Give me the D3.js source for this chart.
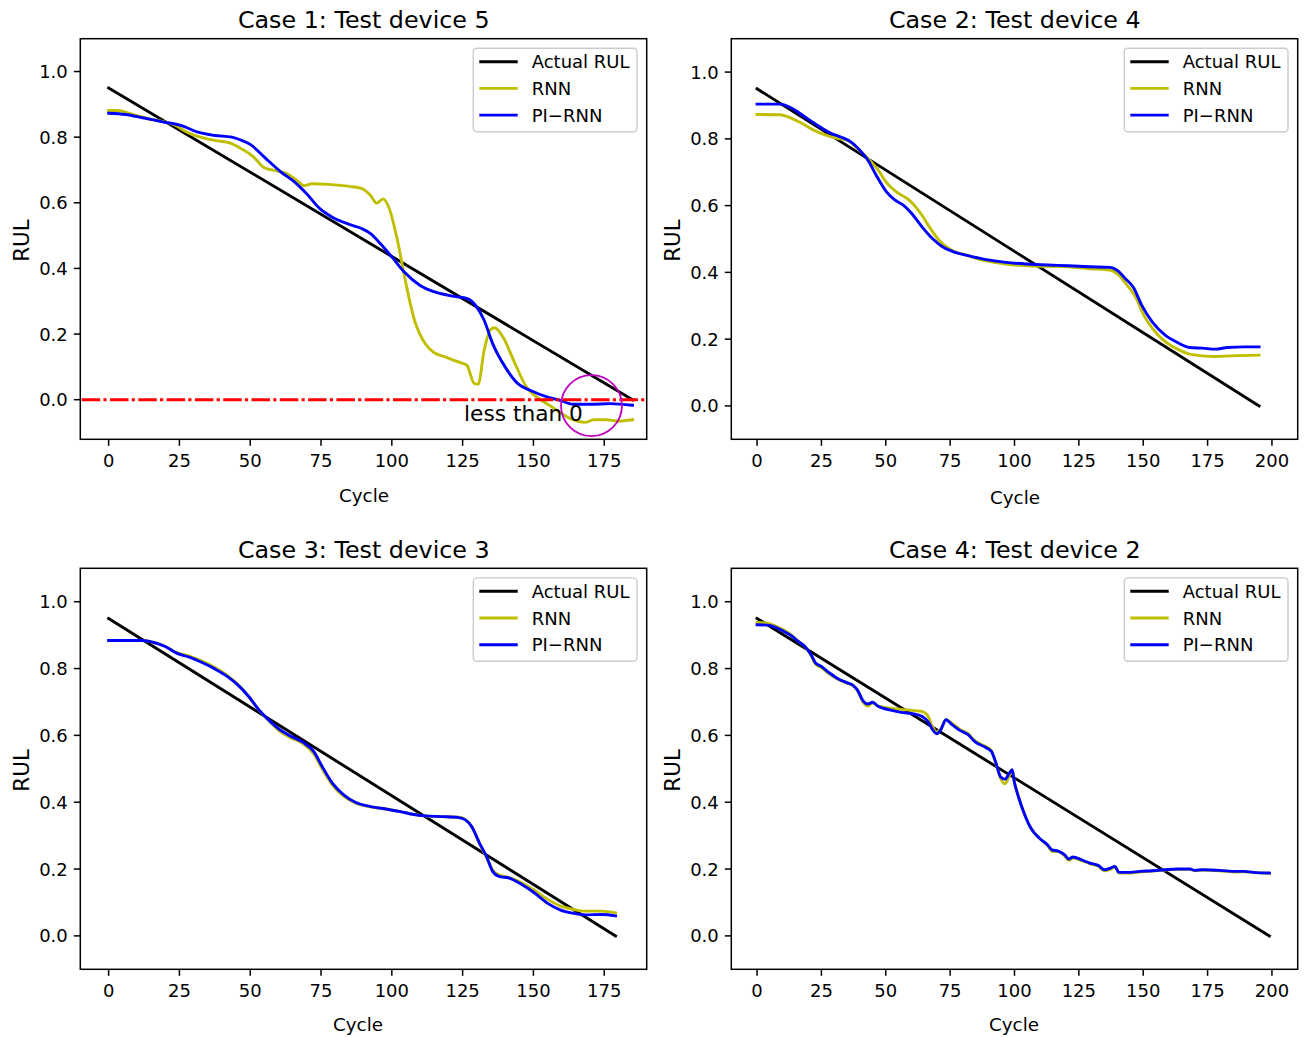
<!DOCTYPE html>
<html>
<head>
<meta charset="utf-8">
<script src="https://cdn.jsdelivr.net/npm/d3@7"></script>
<style>
body{margin:0;background:#fff}
svg{display:block}
text{font-family:"DejaVu Sans","Noto Sans",sans-serif;fill:#000}
</style>
</head>
<body>
<svg id="chart" width="1306" height="1037"></svg>
<script>
// ---------------- DATA ----------------
const titles = ["Case 1: Test device 5", "Case 2: Test device 4", "Case 3: Test device 3", "Case 4: Test device 2"];
const seriesNames = ["Actual RUL", "RNN", "PI\u2212RNN"];
const xTicksShort = [0, 25, 50, 75, 100, 125, 150, 175];
const xTicksLong = [0, 25, 50, 75, 100, 125, 150, 175, 200];
const yTicks = [0.0, 0.2, 0.4, 0.6, 0.8, 1.0];
const xLabel = "Cycle";
const yLabel = "RUL";
const annotationText = "less than 0";
const annotationPos = [125.5, -0.065];
const circlePos = [170.5, -0.018];
const zeroLine = 0;

const case1Actual = [[0, 0.95], [185, 0.0]];
const case1RNN = [[0,0.881],[3,0.881],[8,0.871],[14,0.856],[20,0.846],[24,0.834],[27,0.818],[31.5,0.802],[37.5,0.79],[43,0.782],[47,0.764],[51,0.741],[55,0.707],[60,0.696],[63.5,0.686],[66.5,0.668],[69,0.652],[72,0.658],[77.5,0.656],[85,0.65],[89.5,0.643],[92.5,0.622],[94.7,0.599],[96.9,0.612],[99,0.585],[102,0.485],[105,0.353],[108,0.242],[112,0.168],[115,0.143],[119,0.13],[123.5,0.115],[126.5,0.105],[129,0.05],[130.5,0.047],[132.6,0.15],[134.8,0.213],[136.3,0.219],[139.3,0.19],[143,0.12],[147.5,0.039],[152,0.003],[156.5,-0.022],[161,-0.048],[165.3,-0.065],[168.5,-0.069],[171.3,-0.061],[175.7,-0.061],[180,-0.065],[185,-0.061]];
const case1PIRNN = [[0,0.873],[6,0.869],[12,0.859],[19.5,0.846],[25.5,0.836],[31.5,0.815],[37.5,0.805],[43.5,0.80],[47,0.79],[50,0.778],[55,0.739],[61,0.693],[65.7,0.663],[70,0.627],[74.6,0.582],[79,0.556],[85,0.534],[89.5,0.521],[92.5,0.506],[96,0.475],[100,0.435],[104.4,0.389],[110,0.348],[116,0.326],[122,0.315],[126.7,0.308],[129.6,0.287],[132.6,0.242],[135.6,0.171],[140,0.1],[144.5,0.049],[149,0.028],[155,0.008],[159.4,-0.002],[164,-0.014],[170,-0.014],[177,-0.012],[185,-0.017]];

const case2Actual = [[0, 0.95], [195, 0.0]];
const case2RNN = [[0,0.873],[9,0.872],[12,0.866],[17,0.848],[22,0.826],[26.7,0.811],[31.5,0.801],[35,0.796],[39.7,0.766],[43,0.742],[47,0.707],[50,0.672],[54,0.642],[59,0.617],[64,0.572],[67.3,0.532],[70.6,0.497],[75.4,0.467],[82,0.45],[88.5,0.435],[96.6,0.425],[104.7,0.42],[121,0.417],[129,0.411],[137,0.407],[139.7,0.397],[143.7,0.362],[147,0.327],[150.2,0.272],[153.5,0.233],[158.4,0.193],[163.3,0.17],[168,0.155],[173,0.15],[178,0.148],[184.4,0.15],[195,0.152]];
const case2PIRNN = [[0,0.904],[9,0.904],[13.7,0.891],[18.5,0.866],[23.4,0.841],[28.3,0.818],[33,0.804],[36.4,0.791],[40.5,0.761],[43,0.737],[46.2,0.692],[50.2,0.642],[53.5,0.617],[56.7,0.602],[60,0.577],[64,0.537],[68,0.502],[72,0.477],[77,0.46],[82,0.45],[88.5,0.439],[96.6,0.43],[104.7,0.425],[112.8,0.422],[121,0.42],[129,0.417],[137.2,0.415],[139.7,0.407],[143,0.382],[146.2,0.355],[149.4,0.302],[153.5,0.252],[158.4,0.213],[163.3,0.19],[168,0.175],[173,0.173],[178,0.17],[182.8,0.175],[189.3,0.177],[195,0.177]];

const case3Actual = [[0, 0.95], [179, 0.0]];
const case3RNN = [[0,0.884],[12,0.884],[16,0.878],[20,0.866],[24,0.848],[28.5,0.837],[33,0.822],[37.5,0.803],[42,0.779],[45.6,0.753],[49.4,0.717],[53,0.677],[57,0.64],[60.5,0.612],[64,0.594],[68.7,0.575],[72.4,0.545],[75.4,0.5],[79,0.452],[83,0.418],[87.3,0.397],[92.5,0.386],[98.4,0.379],[103,0.372],[107.3,0.364],[111.8,0.359],[117.8,0.357],[123.7,0.355],[126,0.348],[128.2,0.328],[131,0.275],[133.4,0.236],[135.6,0.197],[137.8,0.183],[141.5,0.174],[146,0.158],[149.7,0.14],[154.9,0.11],[159.4,0.09],[163.8,0.08],[168.3,0.074],[174.2,0.074],[179,0.069]];
const case3PIRNN = [[0,0.884],[12,0.884],[16,0.878],[20,0.866],[24,0.846],[28.5,0.834],[33,0.818],[37.5,0.799],[42,0.776],[45.6,0.751],[49.4,0.717],[53,0.677],[57,0.642],[60.5,0.617],[64,0.599],[68.7,0.579],[72.4,0.552],[75.4,0.507],[79,0.457],[83,0.422],[87.3,0.399],[92.5,0.387],[98.4,0.379],[103,0.372],[107.3,0.364],[111.8,0.359],[117.8,0.357],[123.7,0.354],[126,0.347],[128.2,0.327],[131,0.277],[133.4,0.238],[135.6,0.193],[137.8,0.178],[141.5,0.173],[146,0.153],[149.7,0.133],[154.9,0.098],[159.4,0.078],[163.8,0.068],[168.3,0.063],[174.2,0.064],[179,0.06]];

const case4Actual = [[0, 0.95], [199, 0.0]];
const case4RNN = [[0,0.938],[4,0.936],[7,0.928],[10.4,0.915],[13.7,0.898],[16,0.882],[18.6,0.866],[21,0.838],[22.6,0.814],[25,0.802],[28.3,0.783],[31.6,0.767],[34.8,0.757],[37.3,0.748],[38.9,0.735],[41.3,0.698],[43,0.688],[44.9,0.697],[47,0.688],[51,0.682],[56,0.678],[61,0.674],[64,0.672],[66.6,0.655],[68.2,0.625],[69.8,0.61],[71.4,0.62],[73.4,0.648],[75.5,0.637],[78.8,0.618],[82,0.605],[84.5,0.585],[88.5,0.568],[91,0.555],[92.6,0.52],[94.7,0.47],[96.3,0.455],[98,0.48],[99.1,0.497],[99.9,0.462],[101.5,0.417],[104,0.362],[106.4,0.322],[109.7,0.292],[112.9,0.27],[114.6,0.253],[117,0.252],[119.4,0.24],[121.1,0.226],[122.7,0.233],[125.9,0.226],[129.2,0.216],[132.5,0.209],[134.9,0.195],[137.3,0.2],[139,0.206],[140.6,0.188],[143.9,0.188],[148.7,0.191],[153.6,0.194],[158.5,0.197],[163.4,0.199],[168.3,0.199],[169.9,0.195],[173.1,0.197],[179.6,0.195],[186.2,0.191],[189.4,0.192],[192.7,0.19],[199,0.187]];
const case4PIRNN = [[0,0.931],[4,0.93],[7,0.924],[10.4,0.911],[13.7,0.896],[16,0.881],[18.6,0.866],[21,0.841],[22.6,0.818],[25,0.806],[28.3,0.786],[31.6,0.769],[34.8,0.758],[37.3,0.75],[38.9,0.737],[41.3,0.702],[43,0.694],[44.9,0.699],[47,0.687],[51,0.677],[56,0.669],[61,0.664],[64,0.657],[66.6,0.639],[68.2,0.617],[69.8,0.605],[71.4,0.617],[73.4,0.647],[75.5,0.634],[78.8,0.615],[82,0.602],[84.5,0.582],[88.5,0.565],[91,0.552],[92.6,0.522],[94.7,0.475],[96.3,0.469],[98,0.487],[99.1,0.497],[99.9,0.462],[101.5,0.417],[104,0.362],[106.4,0.322],[109.7,0.292],[112.9,0.272],[114.6,0.257],[117,0.254],[119.4,0.243],[121.1,0.23],[122.7,0.236],[125.9,0.228],[129.2,0.218],[132.5,0.211],[134.9,0.198],[137.3,0.203],[139,0.208],[140.6,0.19],[143.9,0.19],[148.7,0.193],[153.6,0.195],[158.5,0.198],[163.4,0.2],[168.3,0.2],[169.9,0.196],[173.1,0.198],[179.6,0.196],[186.2,0.193],[189.4,0.193],[192.7,0.19],[199,0.188]];

// ---------------- LAYOUT / STYLE ----------------
const colors = {actual: "#000000", rnn: "#bfbf00", pirnn: "#0000ff", zero: "#ff0000", circle: "#bf00bf"};
const panels = [
  {title: titles[0], l: 80.3, r: 646.7, t: 38.7, b: 439.3, xDom: [-10, 190], yDom: [-0.1207, 1.1], xt: xTicksShort,
   data: [case1Actual, case1RNN, case1PIRNN], xlabX: 364, xlabY: 501.5, extras: true},
  {title: titles[1], l: 731.3, r: 1297.7, t: 38.7, b: 439.3, xDom: [-10, 210], yDom: [-0.1, 1.1], xt: xTicksLong,
   data: [case2Actual, case2RNN, case2PIRNN], xlabX: 1015, xlabY: 503.5, extras: false},
  {title: titles[2], l: 80.3, r: 646.7, t: 568.3, b: 969.3, xDom: [-10, 190], yDom: [-0.1, 1.1], xt: xTicksShort,
   data: [case3Actual, case3RNN, case3PIRNN], xlabX: 358, xlabY: 1030.5, extras: false},
  {title: titles[3], l: 731.3, r: 1297.7, t: 568.3, b: 969.3, xDom: [-10, 210], yDom: [-0.1, 1.1], xt: xTicksLong,
   data: [case4Actual, case4RNN, case4PIRNN], xlabX: 1014, xlabY: 1030.5, extras: false}
];

const svg = d3.select("#chart");
svg.append("rect").attr("width", 1306).attr("height", 1037).attr("fill", "#fff");

const tickFs = 18, legendFs = 18, labelFs = 18.3, titleFs = 23.8, ylabFs = 21.5, annFs = 21.7;
const lw = 2.9;

panels.forEach((p, i) => {
  const x = d3.scaleLinear().domain(p.xDom).range([p.l, p.r]);
  const y = d3.scaleLinear().domain(p.yDom).range([p.b, p.t]);
  const g = svg.append("g");
  const clipId = "clip" + i;
  svg.append("clipPath").attr("id", clipId).append("rect")
    .attr("x", p.l).attr("y", p.t).attr("width", p.r - p.l).attr("height", p.b - p.t);

  const plot = g.append("g").attr("clip-path", `url(#${clipId})`);
  const line = d3.line().x(d => x(d[0])).y(d => y(d[1])).curve(d3.curveMonotoneX);
  const straight = d3.line().x(d => x(d[0])).y(d => y(d[1]));
  const strokes = [colors.actual, colors.rnn, colors.pirnn];
  p.data.forEach((ser, k) => {
    plot.append("path").datum(ser).attr("d", k === 0 ? straight(ser) : line(ser))
      .attr("fill", "none").attr("stroke", strokes[k]).attr("stroke-width", lw)
      .attr("stroke-linejoin", "round").attr("stroke-linecap", "square");
  });

  if (p.extras) {
    plot.append("line").attr("x1", p.l).attr("x2", p.r).attr("y1", y(zeroLine)).attr("y2", y(zeroLine))
      .attr("stroke", colors.zero).attr("stroke-width", lw).attr("stroke-dasharray", "18.5,3.2,3.2,3.4")
      .attr("stroke-dashoffset", -1.4);
    g.append("text").attr("x", x(annotationPos[0])).attr("y", y(annotationPos[1]))
      .attr("font-size", annFs).text(annotationText);
    g.append("circle").attr("cx", x(circlePos[0])).attr("cy", y(circlePos[1])).attr("r", 30.5)
      .attr("fill", "none").attr("stroke", colors.circle).attr("stroke-width", 1.8);
  }

  // frame
  g.append("rect").attr("x", p.l).attr("y", p.t).attr("width", p.r - p.l).attr("height", p.b - p.t)
    .attr("fill", "none").attr("stroke", "#000").attr("stroke-width", 1.5);

  // x ticks
  p.xt.forEach(v => {
    g.append("line").attr("x1", x(v)).attr("x2", x(v)).attr("y1", p.b).attr("y2", p.b + 6.5)
      .attr("stroke", "#000").attr("stroke-width", 1.5);
    g.append("text").attr("x", x(v)).attr("y", p.b + 27.5).attr("text-anchor", "middle")
      .attr("font-size", tickFs).text(d3.format("d")(v));
  });
  // y ticks
  yTicks.forEach(v => {
    g.append("line").attr("x1", p.l - 6.5).attr("x2", p.l).attr("y1", y(v)).attr("y2", y(v))
      .attr("stroke", "#000").attr("stroke-width", 1.5);
    g.append("text").attr("x", p.l - 12.5).attr("y", y(v) + 6.5).attr("text-anchor", "end")
      .attr("font-size", tickFs).text(d3.format(".1f")(v));
  });

  // labels
  g.append("text").attr("x", (p.l + p.r) / 2 + 0.3).attr("y", p.t - 10.4).attr("text-anchor", "middle")
    .attr("font-size", titleFs).text(p.title);
  g.append("text").attr("x", p.xlabX).attr("y", p.xlabY).attr("text-anchor", "middle")
    .attr("font-size", labelFs).text(xLabel);
  g.append("text").attr("transform", `translate(${p.l - 51},${(p.t + p.b) / 2 + 1.5}) rotate(-90)`)
    .attr("text-anchor", "middle").attr("font-size", ylabFs).text(yLabel);

  // legend
  const lgW = 163.7, lgH = 83.4;
  const lx = p.r - 9.7 - lgW, ly = p.t + 9.6;
  const lg = g.append("g");
  lg.append("rect").attr("x", lx).attr("y", ly).attr("width", lgW).attr("height", lgH).attr("rx", 3.5)
    .attr("fill", "#fff").attr("fill-opacity", 0.8).attr("stroke", "#cccccc").attr("stroke-width", 1.4);
  seriesNames.forEach((name, k) => {
    const ry = ly + 13.4 + k * 26.7;
    lg.append("line").attr("x1", lx + 6).attr("x2", lx + 44.4).attr("y1", ry).attr("y2", ry)
      .attr("stroke", strokes[k]).attr("stroke-width", lw);
    lg.append("text").attr("x", lx + 58.4).attr("y", ry + 6.5).attr("font-size", legendFs).text(name);
  });
});
</script>
</body>
</html>
